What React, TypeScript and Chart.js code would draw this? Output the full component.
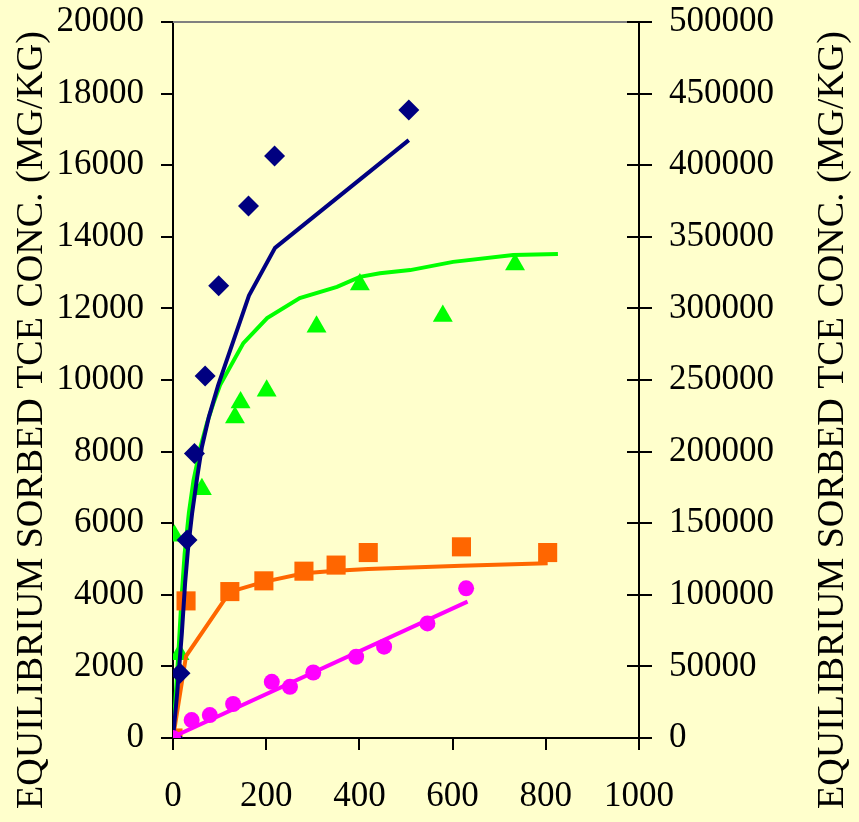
import React, { useEffect, useRef } from 'react';
import { Chart, registerables } from 'chart.js';

Chart.register(...registerables);

// ---- data ----
const AXIS_TITLE = 'EQUILIBRIUM SORBED TCE CONC. (MG/KG)';

const xTicks = [0, 200, 400, 600, 800, 1000];
const yLeftTicks = [0, 2000, 4000, 6000, 8000, 10000, 12000, 14000, 16000, 18000, 20000];
const yRightTicks = [0, 50000, 100000, 150000, 200000, 250000, 300000, 350000, 400000, 450000, 500000];

// navy diamonds (measured) and fitted curve
const navyDataX = [0, 15, 30, 46, 69, 98, 162, 218, 506];
const navyDataY = [0, 1810, 5530, 7950, 10110, 12630, 14860, 16260, 17540];
const navyFitX = [0, 9, 12, 19, 26, 32, 41, 52, 62, 77, 97, 163, 219, 506];
const navyFitY = [0, 1260, 1760, 2930, 4330, 5250, 6280, 7290, 8130, 8970, 9860, 12360, 13690, 16700];

// green triangles and fitted curve
const greenDataX = [0, 3, 14, 62, 133, 145, 201, 308, 401, 579, 734];
const greenDataY = [0, 5650, 2340, 6950, 8950, 9370, 9700, 11490, 12670, 11790, 13225];
const greenFitX = [0, 12, 18, 25, 34, 44, 59, 73, 87, 101, 151, 202, 272, 352, 401, 444, 509, 601, 730, 826];
const greenFitY = [0, 2460, 3850, 5150, 6280, 7200, 8130, 8800, 9360, 9860, 11030, 11730, 12290, 12600, 12880, 12980, 13070, 13300, 13490, 13520];

// orange squares and fitted curve
const orangeDataX = [0, 28, 122, 195, 281, 350, 419, 619, 804];
const orangeDataY = [0, 3830, 4090, 4390, 4660, 4830, 5180, 5340, 5180];
const orangeFitX = [0, 28, 122, 195, 281, 350, 419, 619, 804];
const orangeFitY = [0, 2290, 4080, 4360, 4600, 4670, 4720, 4810, 4880];

// magenta circles and fitted line
const magentaDataX = [0, 40, 79, 129, 212, 251, 301, 393, 453, 546, 629];
const magentaDataY = [0, 500, 640, 950, 1570, 1430, 1830, 2270, 2550, 3200, 4180];
const magentaFitX = [0, 632];
const magentaFitY = [30, 3810];

const pts = (xs: number[], ys: number[]) => xs.map((x, i) => ({ x, y: ys[i] }));

const NAVY = '#000080';
const GREEN = '#00FF00';
const ORANGE = '#FF6600';
const MAGENTA = '#FF00FF';
const BG = '#FFFFCC';
const FONT = 'Liberation Serif';

export default function App() {
  const ref = useRef<HTMLCanvasElement | null>(null);

  useEffect(() => {
    if (!ref.current) return;

    const decor = {
      id: 'decor',
      beforeDraw(chart: any) {
        const ctx = chart.ctx;
        ctx.save();
        ctx.fillStyle = BG;
        ctx.fillRect(0, 0, chart.width, chart.height);
        ctx.restore();
      },
      beforeDatasetsDraw(chart: any) {
        const ctx = chart.ctx;
        const a = chart.chartArea;
        ctx.save();
        ctx.strokeStyle = '#808080';
        ctx.lineWidth = 2;
        ctx.beginPath();
        ctx.moveTo(a.left, a.top);
        ctx.lineTo(a.right, a.top);
        ctx.stroke();
        // inward half of the right axis cross ticks
        const y2 = chart.scales.y2;
        ctx.strokeStyle = '#000';
        ctx.lineWidth = 2;
        yRightTicks.forEach((v) => {
          const py = Math.round(y2.getPixelForValue(v));
          ctx.beginPath();
          ctx.moveTo(a.right - 12, py);
          ctx.lineTo(a.right, py);
          ctx.stroke();
        });
        ctx.restore();
      },
      afterDraw(chart: any) {
        const ctx = chart.ctx;
        const a = chart.chartArea;
        const cy = (a.top + a.bottom) / 2 + 40;
        ctx.save();
        ctx.font = `38px "${FONT}"`;
        ctx.fillStyle = '#000';
        ctx.textAlign = 'center';
        ctx.textBaseline = 'alphabetic';
        ctx.save();
        ctx.translate(42, cy);
        ctx.rotate(-Math.PI / 2);
        ctx.fillText(AXIS_TITLE, 0, 0);
        ctx.restore();
        ctx.save();
        ctx.translate(chart.width - 16, cy);
        ctx.rotate(-Math.PI / 2);
        ctx.fillText(AXIS_TITLE, 0, 0);
        ctx.restore();
        ctx.restore();
      },
    };

    const lineDs = (label: string, xs: number[], ys: number[], color: string, order: number) => ({
      label,
      data: pts(xs, ys),
      showLine: true,
      borderColor: color,
      backgroundColor: color,
      borderWidth: 4,
      pointRadius: 0,
      pointHoverRadius: 0,
      tension: 0,
      fill: false,
      order,
      yAxisID: 'y',
    });
    const markerDs = (label: string, xs: number[], ys: number[], color: string, style: string, radius: number, order: number) => ({
      label,
      data: pts(xs, ys),
      showLine: false,
      borderColor: color,
      backgroundColor: color,
      borderWidth: 0,
      pointStyle: style,
      pointRadius: radius,
      pointHoverRadius: radius,
      order,
      yAxisID: 'y',
    });

    const fitY = (w: number) => (s: any) => {
      s.width = w;
      s.paddingTop = 0;
      s.paddingBottom = 0;
    };

    const tickFont = { family: FONT, size: 35 };
    const chart = new Chart(ref.current, {
      type: 'scatter',
      data: {
        datasets: [
          markerDs('Magenta data', magentaDataX, magentaDataY, MAGENTA, 'circle', 8, 1),
          lineDs('Magenta fit', magentaFitX, magentaFitY, MAGENTA, 0),
          markerDs('Navy data', navyDataX, navyDataY, NAVY, 'rectRot', 10.5, 2),
          lineDs('Navy fit', navyFitX, navyFitY, NAVY, 3),
          markerDs('Orange data', orangeDataX, orangeDataY, ORANGE, 'rect', 13.5, 4),
          lineDs('Orange fit', orangeFitX, orangeFitY, ORANGE, 5),
          markerDs('Green data', greenDataX, greenDataY, GREEN, 'triangle', 11.5, 6),
          lineDs('Green fit', greenFitX, greenFitY, GREEN, 7),
        ] as any,
      },
      options: {
        animation: false,
        responsive: false,
        devicePixelRatio: 1,
        layout: { padding: { top: 22, left: 0, right: 0, bottom: 0 } },
        plugins: { legend: { display: false }, tooltip: { enabled: false } },
        scales: {
          x: {
            type: 'linear',
            position: 'bottom',
            min: 0,
            max: 1000,
            afterBuildTicks: (s: any) => { s.ticks = xTicks.map((v) => ({ value: v })); },
            afterFit: (s: any) => { s.height = 84; s.paddingLeft = 0; s.paddingRight = 0; },
            grid: { drawOnChartArea: false, drawTicks: true, tickLength: 12, color: '#000', lineWidth: 2 },
            border: { display: true, color: '#000', width: 2 },
            ticks: { font: tickFont, color: '#000', padding: 26, maxRotation: 0, callback: (v: any) => String(v) },
          },
          y: {
            type: 'linear',
            position: 'left',
            min: 0,
            max: 20000,
            afterBuildTicks: (s: any) => { s.ticks = yLeftTicks.map((v) => ({ value: v })); },
            afterFit: fitY(173),
            grid: { drawOnChartArea: false, drawTicks: true, tickLength: 12, color: '#000', lineWidth: 2 },
            border: { display: true, color: '#000', width: 2 },
            ticks: { font: tickFont, color: '#000', padding: 17, callback: (v: any) => String(v) },
          },
          y2: {
            type: 'linear',
            position: 'right',
            min: 0,
            max: 500000,
            afterBuildTicks: (s: any) => { s.ticks = yRightTicks.map((v) => ({ value: v })); },
            afterFit: fitY(220),
            grid: { drawOnChartArea: false, drawTicks: true, tickLength: 13, color: '#000', lineWidth: 2 },
            border: { display: true, color: '#000', width: 2 },
            ticks: { font: tickFont, color: '#000', padding: 17, callback: (v: any) => String(v) },
          },
        },
      } as any,
      plugins: [decor],
    });

    return () => chart.destroy();
  }, []);

  return (
    <div style={{ position: 'absolute', left: 0, top: 0, width: 859, height: 822, background: BG }}>
      <canvas ref={ref} width={859} height={822} style={{ display: 'block' }} />
    </div>
  );
}
